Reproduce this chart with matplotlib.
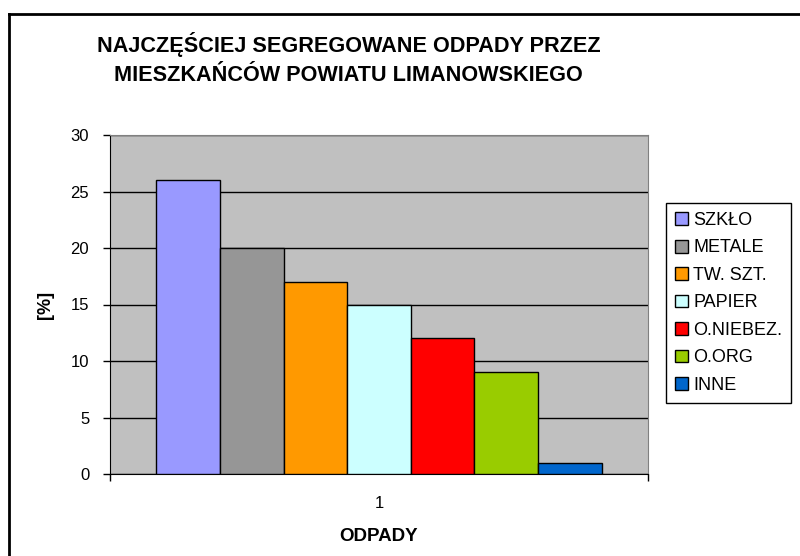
import numpy as np
import matplotlib.pyplot as plt
from matplotlib.lines import Line2D

plt.rcParams['font.family'] = ['Liberation Sans', 'DejaVu Sans']

categories = ["SZKŁO", "METALE", "TW. SZT.", "PAPIER", "O.NIEBEZ.", "O.ORG", "INNE"]
values = [26, 20, 17, 15, 12, 9, 1]
colors = ["#9999FF", "#969696", "#FF9900", "#CCFFFF", "#FF0000", "#99CC00", "#0066CC"]

fig = plt.figure(figsize=(8, 5.56), dpi=100)
ax = fig.add_axes([110 / 800, 1 - 474 / 556, 538 / 800, 339 / 556])
ax.set_facecolor("#C0C0C0")

w = 0.1182
n = len(values)
offsets = (np.arange(n) - (n - 1) / 2) * w
for off, v, c, lab in zip(offsets, values, colors, categories):
    ax.bar(1 + off, v, width=w, color=c, edgecolor="black", linewidth=1, label=lab, zorder=3)

ax.set_xlim(0.5, 1.5)
ax.set_ylim(0, 30)
ax.set_yticks(range(0, 31, 5))
ax.yaxis.grid(True, color="black", linewidth=1, zorder=0)
ax.set_axisbelow(True)
ax.set_xticks([1])
ax.set_xticklabels(["1"])
ax.set_xticks([0.5, 1.5], minor=True)
ax.tick_params(axis="x", which="major", length=0, pad=16, labelsize=12)
ax.tick_params(axis="x", which="minor", length=5, width=1, direction="out")
ax.tick_params(axis="y", length=5, width=1, direction="out", labelsize=12, pad=10)
for s in ["top", "right"]:
    ax.spines[s].set_color("#808080")
ax.spines["left"].set_color("black")
ax.spines["bottom"].set_color("black")

ax.set_ylabel("[%]", fontsize=13, fontweight="bold", labelpad=12)
ax.set_xlabel("ODPADY", fontsize=13.5, fontweight="bold", labelpad=12)

fig.text(0.436, 1 - 59 / 556, "NAJCZĘŚCIEJ SEGREGOWANE ODPADY PRZEZ\nMIESZKAŃCÓW POWIATU LIMANOWSKIEGO",
         ha="center", va="center", fontsize=15.6, fontweight="bold", linespacing=1.45)

leg = fig.legend(loc="upper left", bbox_to_anchor=(666 / 800, 1 - 203 / 556), fontsize=13,
                 handlelength=0.7, handleheight=0.7, handletextpad=0.3, labelspacing=0.58,
                 borderpad=0.5, borderaxespad=0, fancybox=False, edgecolor="black", framealpha=1)
leg.get_frame().set_linewidth(1)

fig.add_artist(Line2D([8.5 / 800, 8.5 / 800], [0, 1 - 14 / 556], color="black", linewidth=2,
                      transform=fig.transFigure))
fig.add_artist(Line2D([8.5 / 800, 1], [1 - 14 / 556, 1 - 14 / 556], color="black", linewidth=2,
                      transform=fig.transFigure))

fig.savefig("out.png", dpi=100)
